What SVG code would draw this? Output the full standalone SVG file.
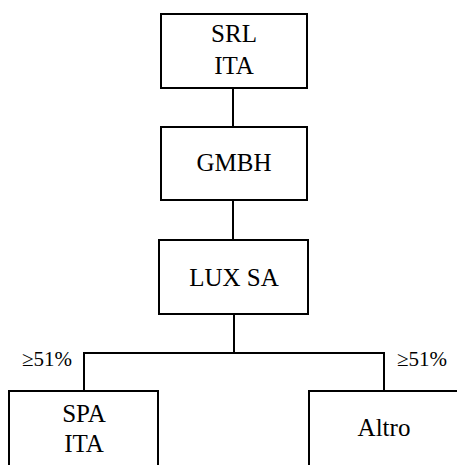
<svg xmlns="http://www.w3.org/2000/svg" width="457" height="465" viewBox="0 0 457 465">
<style>
.box{fill:#fff;stroke:#000;stroke-width:2}
.t{font-family:"Liberation Serif","DejaVu Serif",serif;font-size:25px;fill:#000;text-anchor:middle}
.p{font-family:"Liberation Serif","DejaVu Serif",serif;font-size:21px;fill:#000}
.c{fill:none;stroke:#000;stroke-width:2}
</style>
<rect width="457" height="465" fill="#fff"/>
<g id="connectors">
<line class="c" x1="233" y1="88" x2="233" y2="127"/>
<line class="c" x1="233" y1="200" x2="233" y2="240"/>
<line class="c" x1="234" y1="314" x2="234" y2="353"/>
<polyline class="c" points="84,391 84,353 384,353 384,391"/>
</g>
<g id="srl">
<rect class="box" x="161" y="14" width="146" height="74"/>
<text class="t" x="234" y="42">SRL</text>
<text class="t" x="234" y="74">ITA</text>
</g>
<g id="gmbh">
<rect class="box" x="161" y="127" width="146" height="73"/>
<text class="t" x="234" y="171">GMBH</text>
</g>
<g id="lux">
<rect class="box" x="159" y="240" width="149" height="74"/>
<text class="t" x="234" y="286">LUX SA</text>
</g>
<g id="spa">
<rect class="box" x="9" y="391" width="149" height="80"/>
<text class="t" x="84" y="422">SPA</text>
<text class="t" x="84" y="452">ITA</text>
</g>
<g id="altro">
<rect class="box" x="309" y="391" width="160" height="80"/>
<text class="t" x="384" y="436">Altro</text>
</g>
<text class="p" x="22" y="366">≥51%</text>
<text class="p" x="397" y="366">≥51%</text>
</svg>
